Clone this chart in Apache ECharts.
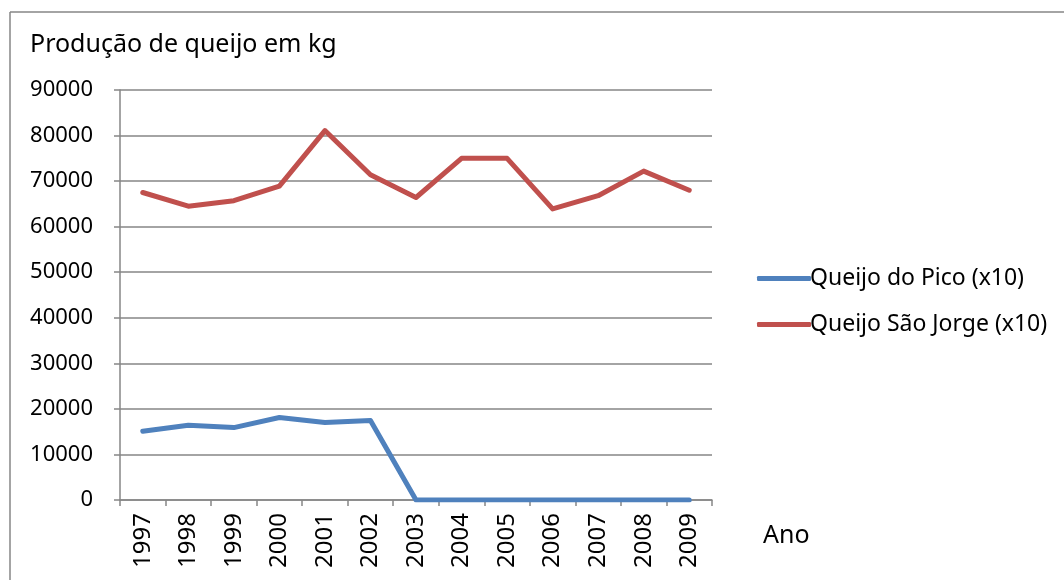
<!DOCTYPE html>
<html>
<head>
<meta charset="utf-8">
<script src="https://cdn.jsdelivr.net/npm/echarts@6/dist/echarts.min.js"></script>
<style>html,body{margin:0;padding:0;background:#fff}#c{width:1064px;height:580px}</style>
</head>
<body>
<div id="c"></div>
<script>
const categories = ['1997','1998','1999','2000','2001','2002','2003','2004','2005','2006','2007','2008','2009'];
const pico = [15100, 16400, 15900, 18100, 17000, 17450, 0, 0, 0, 0, 0, 0, 0];
const saoJorge = [67500, 64500, 65700, 68900, 81100, 71400, 66400, 75000, 75000, 63900, 66800, 72200, 68000];
const seriesNames = ['Queijo do Pico (x10)', 'Queijo São Jorge (x10)'];
const titleText = 'Produção de queijo em kg';
const xName = 'Ano';

const font = 'Noto Sans';
const chart = echarts.init(document.getElementById('c'), null, {renderer: 'canvas'});
chart.setOption({
  animation: false,
  backgroundColor: '#fff',
  title: {
    text: titleText, left: 25, top: 27,
    textStyle: {fontFamily: font, fontSize: 25, fontWeight: 'normal', color: '#000'}
  },
  legend: {
    orient: 'vertical', left: 752, top: 262, itemGap: 23,
    itemWidth: 54, itemHeight: 5, icon: 'roundRect',
    textStyle: {fontFamily: font, fontSize: 23, color: '#000', padding: [0,0,0,-6]},
    data: seriesNames
  },
  grid: {left: 120, right: 352, top: 90, bottom: 80, containLabel: false},
  xAxis: {
    type: 'category', data: categories, boundaryGap: true,
    axisLine: {lineStyle: {color: '#868686', width: 1.5}},
    axisTick: {show: true, length: 6, inside: false, alignWithLabel: false, lineStyle: {color: '#868686', width: 1.5}},
    axisLabel: {rotate: 90, interval: 0, margin: 13, fontFamily: font, fontSize: 24, color: '#000'}
  },
  yAxis: {
    type: 'value', min: 0, max: 90000, interval: 10000,
    axisLine: {show: true, lineStyle: {color: '#868686', width: 1.5}},
    axisTick: {show: true, length: 6, lineStyle: {color: '#868686', width: 1.5}},
    axisLabel: {margin: 27, fontFamily: font, fontSize: 22, color: '#000', formatter: v => String(v)},
    splitLine: {lineStyle: {color: '#868686', width: 1.5}}
  },
  graphic: [
    {type: 'line', shape: {x1: 10, y1: 12, x2: 1064, y2: 12}, style: {stroke: '#868686', lineWidth: 1.5}},
    {type: 'line', shape: {x1: 10, y1: 12, x2: 10, y2: 580}, style: {stroke: '#868686', lineWidth: 1.5}},
    {type: 'text', left: 763, top: 523, style: {text: xName, fontFamily: font, fontSize: 25, fill: '#000'}}
  ],
  series: [
    {name: seriesNames[0], type: 'line', data: pico, symbol: 'none',
     lineStyle: {color: '#4F81BD', width: 5, cap: 'round', join: 'round'}, itemStyle: {color: '#4F81BD'}},
    {name: seriesNames[1], type: 'line', data: saoJorge, symbol: 'none',
     lineStyle: {color: '#C0504D', width: 5, cap: 'round', join: 'round'}, itemStyle: {color: '#C0504D'}}
  ]
});
</script>
</body>
</html>
